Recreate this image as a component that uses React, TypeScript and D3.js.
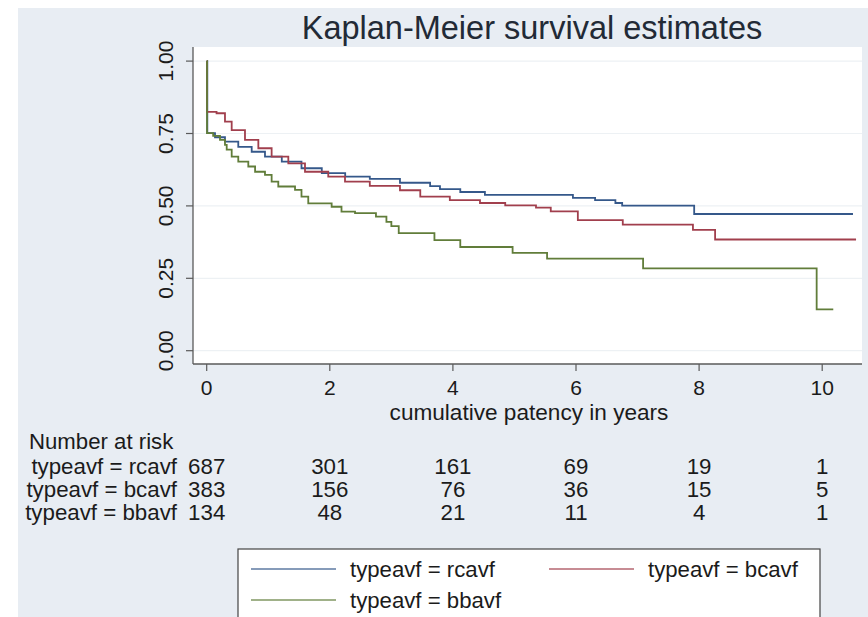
import React from "react";
import * as d3 from "d3";

const W = 868;
const H = 617;

const titleText = "Kaplan-Meier survival estimates";
const xTitle = "cumulative patency in years";
const xTicks = [0, 2, 4, 6, 8, 10];
const yTicks = [0, 0.25, 0.5, 0.75, 1];

const groupLabels = ["typeavf = rcavf", "typeavf = bcavf", "typeavf = bbavf"];
const groupColors = ["#35588a", "#a13f4d", "#617d3a"];

const rcavfTime = [0, 0.01, 0.135, 0.297, 0.513, 0.731, 0.947, 1.22, 1.54, 1.87, 2.25, 2.65, 3.14, 3.63, 3.79, 4.12, 4.52, 5.95, 6.31, 6.64, 6.75, 7.92, 10.5];
const rcavfSurv = [1, 0.751, 0.737, 0.722, 0.704, 0.687, 0.67, 0.653, 0.63, 0.613, 0.601, 0.593, 0.58, 0.568, 0.558, 0.548, 0.538, 0.528, 0.52, 0.51, 0.501, 0.472, 0.472];

const bcavfTime = [0, 0.005, 0.16, 0.297, 0.406, 0.622, 0.839, 1.055, 1.326, 1.597, 1.975, 2.247, 2.65, 3.14, 3.47, 3.95, 4.44, 4.85, 5.35, 5.59, 6.03, 6.76, 7.9, 8.26, 10.55];
const bcavfSurv = [1, 0.825, 0.82, 0.791, 0.762, 0.728, 0.699, 0.67, 0.647, 0.618, 0.601, 0.584, 0.569, 0.554, 0.532, 0.52, 0.51, 0.502, 0.494, 0.481, 0.451, 0.435, 0.417, 0.384, 0.384];

const bbavfTime = [0, 0.005, 0.105, 0.216, 0.297, 0.325, 0.406, 0.513, 0.676, 0.786, 0.947, 1.055, 1.163, 1.435, 1.54, 1.65, 2.03, 2.19, 2.41, 2.75, 2.92, 3.0, 3.12, 3.7, 4.12, 4.97, 5.53, 7.09, 9.91, 10.18];
const bbavfSurv = [1, 0.751, 0.742, 0.728, 0.711, 0.694, 0.67, 0.653, 0.636, 0.618, 0.607, 0.584, 0.567, 0.555, 0.532, 0.509, 0.497, 0.48, 0.475, 0.463, 0.445, 0.43, 0.406, 0.382, 0.358, 0.338, 0.318, 0.284, 0.143, 0.143];

const riskRcavf = [687, 301, 161, 69, 19, 1];
const riskBcavf = [383, 156, 76, 36, 15, 5];
const riskBbavf = [134, 48, 21, 11, 4, 1];

const seriesTimes = [rcavfTime, bcavfTime, bbavfTime];
const seriesSurv = [rcavfSurv, bcavfSurv, bbavfSurv];
const riskRows = [riskRcavf, riskBcavf, riskBbavf];

const FONT = "'Liberation Sans', Arial, Helvetica, sans-serif";
const TEXT = "#1b1b1b";

export default function App() {
  const plotL = 193, plotR = 862, plotT = 47, plotB = 364;
  const x = d3.scaleLinear().domain([0, 10]).range([206.7, 822.2]);
  const y = d3.scaleLinear().domain([0, 1]).range([350.7, 61.1]);

  const line = d3
    .line<[number, number]>()
    .x((d) => x(d[0]))
    .y((d) => y(d[1]))
    .curve(d3.curveStepAfter);

  const paths = seriesTimes.map((ts, i) =>
    line(ts.map((t, j) => [t, seriesSurv[i][j]] as [number, number]))
  );

  const riskY = [466, 489, 512];
  const legX = 238, legY = 549, legW = 582;

  return (
    <svg
      width={W}
      height={H}
      style={{ position: "absolute", left: 0, top: 0, fontFamily: FONT }}
    >
      <rect x={0} y={0} width={W} height={H} fill="#ffffff" />
      <rect x={18} y={8} width={W - 18} height={H - 8} fill="#e8edf3" />
      {/* plot region */}
      <rect x={plotL} y={plotT} width={plotR - plotL} height={plotB - plotT} fill="#ffffff" />
      {yTicks.map((v) => (
        <line key={"g" + v} x1={plotL} x2={plotR} y1={y(v)} y2={y(v)} stroke="#edf1f4" strokeWidth={1.2} />
      ))}
      {/* title */}
      <text x={532} y={39} textAnchor="middle" fontSize={32.5} fill="#222a36">
        {titleText}
      </text>
      {/* curves */}
      {paths.map((p, i) => (
        <path key={i} d={p || ""} fill="none" stroke={groupColors[i]} strokeWidth={1.8} />
      ))}
      {/* axes */}
      <line x1={plotL} x2={plotL} y1={plotT} y2={plotB} stroke="#5a5a5a" strokeWidth={1.3} />
      <line x1={plotL} x2={plotR} y1={plotB} y2={plotB} stroke="#5a5a5a" strokeWidth={1.3} />
      {yTicks.map((v) => (
        <g key={"y" + v}>
          <line x1={plotL - 7} x2={plotL} y1={y(v)} y2={y(v)} stroke="#5a5a5a" strokeWidth={1.2} />
          <text
            transform={`translate(${173},${y(v)}) rotate(-90)`}
            textAnchor="middle"
            fontSize={21}
            fill={TEXT}
          >
            {d3.format(".2f")(v)}
          </text>
        </g>
      ))}
      {xTicks.map((t) => (
        <g key={"x" + t}>
          <line x1={x(t)} x2={x(t)} y1={plotB} y2={plotB + 7} stroke="#5a5a5a" strokeWidth={1.2} />
          <text x={x(t)} y={395} textAnchor="middle" fontSize={21} fill={TEXT}>
            {t}
          </text>
        </g>
      ))}
      <text x={529} y={420} textAnchor="middle" fontSize={22.6} fill={TEXT}>
        {xTitle}
      </text>
      {/* number at risk */}
      <text x={29} y={449} fontSize={22.2} fill={TEXT}>
        Number at risk
      </text>
      {riskRows.map((row, i) => (
        <g key={"r" + i}>
          <text x={177} y={riskY[i] + 7.5} textAnchor="end" fontSize={22.3} fill={TEXT}>
            {groupLabels[i]}
          </text>
          {row.map((n, j) => (
            <text key={j} x={x(xTicks[j])} y={riskY[i] + 7.5} textAnchor="middle" fontSize={22.3} fill={TEXT}>
              {n}
            </text>
          ))}
        </g>
      ))}
      {/* legend */}
      <rect x={legX} y={legY} width={legW} height={H - legY + 10} fill="#ffffff" stroke="#444" strokeWidth={1.2} />
      {[
        { i: 0, lx: 251, ty: 569 },
        { i: 1, lx: 549, ty: 569 },
        { i: 2, lx: 251, ty: 600 },
      ].map(({ i, lx, ty }) => (
        <g key={"l" + i}>
          <line x1={lx} x2={lx + 85} y1={ty} y2={ty} stroke={groupColors[i]} strokeOpacity={0.6} strokeWidth={2} />
          <text x={lx + 99} y={ty + 7.5} fontSize={22.2} fill={TEXT}>
            {groupLabels[i]}
          </text>
        </g>
      ))}
    </svg>
  );
}
